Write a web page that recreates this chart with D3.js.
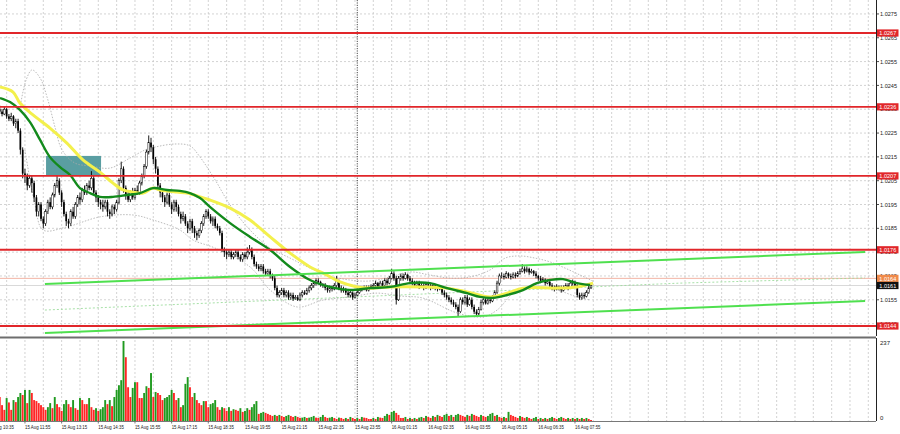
<!DOCTYPE html>
<html><head><meta charset="utf-8">
<script src="https://cdn.jsdelivr.net/npm/d3@7"></script>
<style>html,body{margin:0;padding:0;background:#fff;} svg{display:block;}</style>
</head><body>
<svg id="c" width="900" height="434"></svg>
<script>
// ---- DATA (prices in pips above 1.0000, i.e. 234 = 1.0234) ----
const firstBar = 5;          // index of first bar drawn (bar 0 = 15 Aug 10:35, M5)
const firstOpen = 235;
const closes = [
234,233,235,232,231,232,229,230,226,218,
208,207,203,206,204,198,192,195,189,187,
192,196,194,199,203,205,200,196,191,188,
187,192,190,195,198,197,201,200,203,202,
206,200,198,196,195,194,196,192,191,194,
193,196,205,210,202,199,197,200,198,201,
200,204,207,211,217,221,219,214,210,203,
200,198,196,199,195,193,196,194,191,189,
190,187,185,188,185,183,182,184,187,190,
192,190,188,189,186,185,183,176,175,174,
175,173,174,175,173,172,174,173,175,176,
173,170,169,168,169,167,166,167,165,164,
160,157,158,159,157,158,156,157,155.5,156,
155,157,158,157.5,159,160,161,162,163,162.5,
161.5,161,160,159,160,159.5,161,163,160,159,
159.5,158,157,158,156,157,158,159,159.5,160,
159,160,160.5,161,162,160,162,161,163,162,
164,166,164,155,164,165,164,165.5,164,163,
162,161,162,160.5,161,160,161.5,161,160,161,
160,159.5,160,158,157,156,155,154,153,152,
150,155,154,156,153,155,152,150,149,151,
154,155,153.5,155,154.5,156,158,162,165,165,
164.5,166,165,164.5,165.5,165,166,167,168,167,
168,166.5,167,166,165,164,163,163.5,162,162.5,
161,160,159.5,160.5,160,159,160,161,160,162,
162.5,161,157,156,157,156.5,158,160,161];
const highs = [
236.5,235,236,235.5,233,233.5,232.5,231,231,227,
219,210,208,207,207,205,199,196,196,190,
193,197,198,200,204,207,206,201,197,192,
189,193,194,196,199,200,202,203,204,205,
209,207,201,199,197,197,197,197,193,195,
195,197,206,213,211,203,201,201,202,202,
203,205,208,212,218,224,223,220,215,211,
204,201,199,200,200,196,197,197,195,192,
192,191,188,189,189,186,184,185,188,191,
193,193,191,190,190,187,186,184,177,176,
176,176,175,176,176,174,175,175,177,178,
177,174,171,170,170,170,168,168,168,166,
165,161,159,160,160,159,159,158,158,157,
157,158,159,159,160,161,162,163,164,164,
163,162,162,161,161,161,162,165,163.5,161,
160.5,160,159,159,158.5,158,159,160,160.5,161,
161,161,161.5,162,163,162.5,163,163,164,164,
165,168,167,165,165,166,166,166.5,166,165,
164,163,163,163,162,162,162.5,162.5,162,162,
161.5,161,161,160.5,159,158,157,156,155,154,
153,156,156,157,157,156,156,153,151,152,
155,156,156,156,156,157,159,163,166,166.5,
166,167,166.5,166,166.5,166.5,167,168,170,169,
169,168.5,168,167.5,167,165.5,165,164.5,164,163.5,
163,162,161,161.5,161,161,161,162,162,163,
163.5,163,161.5,158,158,158,159,161,162];
const lows = [
233,232,232.5,231,230,230,228,227,225,216,
206,204,201,202,200,196,190,190,188,185,
186,191,193,193,198,202,199,194,190,186,
185,186,189,189,194,195,196,199,199,201,
201,199,196,194,193,192,193,190,189,190,
191,192,195,204,200,197,196,196,197,197,
199,199,203,206,210,216,217,212,208,201,
198,196,194,195,194,191,192,192,190,187,
188,186,183,184,183,181,180,181,183,186,
189,189,187,186,185,184,182,175,173,172,
173,172,172,173,172,171,171,172,172,174,
172,169,168,167,167,166,165,165,164,163,
159,156,156,157,156,156,155,155,154.5,155,
154.5,154.5,156,157,157,158,159,160,161,161.5,
160.5,160,159,158,158,158.5,159,160,159,158,
158,157,156,156,155,155.5,156.5,157.5,158.5,159,
158.5,158.5,159.5,160,160.5,159.5,159.5,160,160.5,161,
161.5,163.5,163,153,154.5,163,163,163.5,163,162,
161,160,160.5,159.5,160,159,159.5,160,159,159.5,
159,158.5,159,157,156,155,154,153,152,151,
148,149.5,153,153,152,152.5,151,149,148,148.5,
150.5,153,153,153,153.5,154,155.5,157.5,161,164,
163.5,164,164,163.5,164,164,164.5,165.5,166.5,166,
166.5,165.5,166,165,164,163,162,162.5,161,161.5,
160,159,158.5,159,159,158,158.5,159.5,159,159.5,
161,160,156,155,155,155.5,156,157.5,159.5];
const volumes = [
71,47,33,68,55,33,62,56,71,83,
77,92,53,92,83,62,59,53,47,41,
33,41,53,38,71,50,41,30,50,62,
50,41,62,38,33,68,62,50,50,68,
41,33,38,30,35,41,62,50,62,44,
71,92,106,121,237,189,100,71,98,115,
115,68,68,83,103,98,142,71,86,83,
77,62,68,71,77,92,83,62,68,41,
47,110,130,100,71,83,62,53,47,59,
59,41,50,53,62,41,33,41,38,30,
41,30,35,33,30,38,27,30,38,33,
41,50,59,21,24,27,24,21,18,15,
18,15,18,15,12,15,18,15,12,15,
12,9,10,12,9,10,12,15,10,9,
12,18,12,9,10,12,9,6,10,9,
6,9,6,12,9,6,9,6,12,10,
9,6,6,9,6,12,10,9,15,21,
18,27,30,24,18,9,9,12,6,9,
6,9,6,10,12,9,15,12,9,15,
12,18,15,12,18,21,15,18,12,18,
21,18,15,12,18,15,21,18,15,12,
18,15,12,15,21,24,15,18,12,9,
12,9,27,18,15,12,9,15,12,9,
12,9,6,9,12,6,9,6,9,6,
9,12,9,6,9,12,9,6,9,6,
9,6,9,6,9,6,9,6,3];

// moving averages & bands: [bar index, pips]
const maYellow = [[5.1,244.3],[10.8,242.2],[13.8,237.6],[19.5,232.6],[26.9,227.1],[34.3,220.8],[41.3,213.7],[48.7,208.6],[54.4,204.0],[58.8,201.1],[63.1,200.2],[67.5,199.8],[71.9,201.9],[74.9,201.1],[82.3,200.2],[86.7,199.8],[92.4,198.2],[96.7,196.9],[105.5,193.5],[114.2,188.5],[123.0,181.4],[131.7,174.6],[140.4,168.8],[146.1,166.2],[153.5,162.5],[160.9,160.4],[166.6,159.9],[175.3,160.4],[189.7,160.4],[200.2,159.9],[208.9,158.3],[218.9,156.2],[226.4,157.8],[233.3,159.9],[248.2,159.9],[256.9,160.4],[263.9,162.0]];
const maGreen = [[5.1,239.7],[9.5,238.0],[13.8,234.7],[18.2,229.6],[22.6,222.1],[26.9,214.9],[31.3,210.7],[35.7,207.4],[40.0,201.9],[44.4,199.8],[48.7,198.2],[54.4,198.2],[60.5,199.0],[66.2,199.8],[71.9,201.9],[78.0,201.1],[83.6,200.7],[88.0,199.8],[92.4,197.7],[96.7,194.0],[105.5,187.2],[114.2,181.4],[123.0,175.9],[131.7,168.8],[140.4,163.3],[149.1,160.4],[157.8,159.1],[166.6,159.9],[175.3,160.4],[184.0,162.0],[192.7,162.0],[200.2,159.9],[208.9,157.8],[214.6,156.2],[220.2,155.8],[226.4,157.0],[233.3,159.1],[239.4,162.0],[245.1,163.3],[250.8,163.7],[256.9,162.0],[262.6,161.2]];
const bandUpper = [[13.8,235.5],[16.5,247.3],[19.1,251.5],[22.6,248.1],[26.0,238.9],[29.1,227.5],[32.2,217.9],[37.8,212.4],[44.4,211.2],[53.1,210.3],[61.8,214.5],[68.4,217.9],[72.7,219.1],[81.5,220.4],[88.0,219.6],[92.4,214.9],[99.0,205.3],[105.5,194.8],[114.2,184.3],[123.0,176.7],[131.7,172.5],[140.4,168.3],[149.1,165.0],[157.8,163.3],[166.6,162.9],[175.3,164.6],[184.0,166.7],[192.7,165.4],[201.5,164.1],[210.2,164.6],[218.9,167.5],[225.5,172.5],[232.0,173.4],[238.6,172.5],[245.1,170.9],[251.7,168.3],[258.2,165.4],[263.9,162.8]];
const bandLower = [[16.0,217.9],[20.4,194.8],[23.9,184.3],[34.3,185.6],[48.7,189.8],[63.1,190.6],[71.9,188.5],[83.6,184.3],[89.3,180.1],[99.0,176.7],[114.2,168.8],[123.0,159.1],[134.7,152.0],[146.1,154.9],[157.8,156.2],[169.6,157.8],[179.6,156.6],[189.7,155.7],[204.5,149.5],[215.9,147.8],[222.0,150.7],[230.7,159.1],[239.4,160.4],[248.2,159.1],[256.9,156.2],[262.6,154.9]];

// objects
const levels = [1.0267, 1.0236, 1.0207, 1.0176, 1.0144];
const levelLabels = ["1.0267","1.0236","1.0207","1.0176","1.0144"];
const askPrice = 1.0164, askLabel = "1.0164";
const bidPrice = 1.0161, bidLabel = "1.0161";
const trendUpper = [[24.7,161.6],[382.6,175.1]];
const trendLower = [[24.7,141.1],[382.6,154.5]];
const trendFaint = [[24.7,150.7],[301.8,162.0],[382.6,164.2]];
const zone = {i0:25.2, i1:49.2, p0:207.0, p1:215.4};

const priceTicks = [1.0145,1.0155,1.0165,1.0175,1.0185,1.0195,1.0205,1.0215,1.0225,1.0235,1.0245,1.0255,1.0265,1.0275];
const timeTickIdx = [0,16,32,48,64,80,96,112,128,144,160,176,192,208,224,240,256];
const timeTickLabels = ["15 Aug 10:35","15 Aug 11:55","15 Aug 13:15","15 Aug 14:35","15 Aug 15:55","15 Aug 17:15","15 Aug 18:35","15 Aug 19:55","15 Aug 21:15","15 Aug 22:35","15 Aug 23:55","16 Aug 01:15","16 Aug 02:35","16 Aug 03:55","16 Aug 05:15","16 Aug 06:35","16 Aug 07:55"];
const daySeparatorIdx = 161;
const volTicks = [237, 0];

// ---- DRAWING ----
const P = v => 1 + v/10000;
const svg = d3.select("#c");
const axisX = 876;
const x = d3.scaleLinear().domain([0,387]).range([-11.7, 875.2]);
const y = d3.scaleLinear().domain([1.0144,1.0267]).range([326,33]);
const yv = d3.scaleLinear().domain([0,237]).range([421,341]);

const defs = svg.append("defs");
defs.append("clipPath").attr("id","cm").append("rect").attr("x",0).attr("y",0).attr("width",axisX).attr("height",335);
defs.append("clipPath").attr("id","cv").append("rect").attr("x",0).attr("y",339).attr("width",axisX).attr("height",82);

const gm = svg.append("g").attr("clip-path","url(#cm)");
const gv = svg.append("g").attr("clip-path","url(#cv)");

// grid
const gridIdx = d3.range(0, 390, 8);
gm.selectAll(".hg").data(priceTicks).join("line")
  .attr("x1",0).attr("x2",axisX).attr("y1",d=>y(d)).attr("y2",d=>y(d))
  .attr("stroke","#c8c8c8").attr("stroke-width",0.8).attr("stroke-dasharray","2,2");
[gm,gv].forEach(g=>g.selectAll(".vg").data(gridIdx).join("line")
  .attr("x1",d=>x(d)).attr("x2",d=>x(d)).attr("y1",0).attr("y2",421)
  .attr("stroke","#c8c8c8").attr("stroke-width",0.8).attr("stroke-dasharray","2,2"));
[gm,gv].forEach(g=>g.append("line").attr("x1",x(daySeparatorIdx)).attr("x2",x(daySeparatorIdx))
  .attr("y1",0).attr("y2",421).attr("stroke","#333").attr("stroke-width",0.9).attr("stroke-dasharray","1.2,1.2"));

// zone rectangle
gm.append("rect").attr("x",x(zone.i0)).attr("width",x(zone.i1)-x(zone.i0))
  .attr("y",y(P(zone.p1))).attr("height",y(P(zone.p0))-y(P(zone.p1)))
  .attr("fill","#5a9ea2");

// ask/bid lines
gm.append("line").attr("x1",0).attr("x2",axisX).attr("y1",y(askPrice)).attr("y2",y(askPrice)).attr("stroke","#f2b4a4").attr("stroke-width",1);
gm.append("line").attr("x1",0).attr("x2",axisX).attr("y1",y(bidPrice)).attr("y2",y(bidPrice)).attr("stroke","#cfcfcf").attr("stroke-width",0.8);

// bands
const line = d3.line().x(d=>x(d[0])).y(d=>y(P(d[1]))).curve(d3.curveCatmullRom);
[bandUpper, bandLower].forEach(b=>gm.append("path").attr("d",line(b)).attr("fill","none")
  .attr("stroke","#a9a9a9").attr("stroke-width",0.8).attr("stroke-dasharray","1.5,1.5"));

// faint trend
gm.append("path").attr("d",d3.line().x(d=>x(d[0])).y(d=>y(P(d[1])))(trendFaint)).attr("fill","none")
  .attr("stroke","#9ddc9d").attr("stroke-width",0.9).attr("stroke-dasharray","2,2");

// candles
const bars = closes.map((c,k)=>({i:firstBar+k, o: k===0?firstOpen:closes[k-1], c, h:highs[k], l:lows[k], v:volumes[k]}));
const cg = gm.append("g");
cg.selectAll(".w").data(bars).join("line")
  .attr("x1",d=>x(d.i)).attr("x2",d=>x(d.i))
  .attr("y1",d=>y(P(d.h))).attr("y2",d=>y(P(d.l)))
  .attr("stroke","#000").attr("stroke-width",0.9);
cg.selectAll(".b").data(bars).join("rect")
  .attr("x",d=>x(d.i)-0.85).attr("width",1.7)
  .attr("y",d=>y(P(Math.max(d.o,d.c))))
  .attr("height",d=>Math.max(0.6, Math.abs(y(P(d.o))-y(P(d.c)))))
  .attr("fill",d=>d.c>=d.o?"#fff":"#000")
  .attr("stroke","#000").attr("stroke-width",d=>d.c>=d.o?0.5:0);

// MAs
gm.append("path").attr("d",line(maYellow)).attr("fill","none").attr("stroke","#f3f04c").attr("stroke-width",3);
gm.append("path").attr("d",line(maGreen)).attr("fill","none").attr("stroke","#138a1c").attr("stroke-width",2.4);

// trend lines
[trendUpper, trendLower].forEach(t=>gm.append("path").attr("d",d3.line().x(d=>x(d[0])).y(d=>y(P(d[1])))(t))
  .attr("fill","none").attr("stroke","#4fe04f").attr("stroke-width",2));

// levels
gm.selectAll(".lv").data(levels).join("line")
  .attr("x1",0).attr("x2",axisX).attr("y1",d=>y(d)).attr("y2",d=>y(d))
  .attr("stroke","#e1262a").attr("stroke-width",1.8);

// volumes
gv.selectAll(".vb").data(bars).join("rect")
  .attr("x",d=>x(d.i)-0.95).attr("width",1.9)
  .attr("y",d=>yv(d.v)).attr("height",d=>yv(0)-yv(d.v))
  .attr("fill",(d,k)=> (k>0 && d.v>bars[k-1].v) ? "#1f9a1f" : "#ff2626");

// separators & axes
svg.append("rect").attr("x",0).attr("y",336.5).attr("width",axisX).attr("height",2).attr("fill","#6e6e6e");
svg.append("line").attr("x1",axisX+0.5).attr("x2",axisX+0.5).attr("y1",0).attr("y2",336).attr("stroke","#222").attr("stroke-width",1);
svg.append("line").attr("x1",axisX+0.5).attr("x2",axisX+0.5).attr("y1",338).attr("y2",421).attr("stroke","#222").attr("stroke-width",1);
svg.append("line").attr("x1",0).attr("x2",axisX).attr("y1",421.5).attr("y2",421.5).attr("stroke","#555").attr("stroke-width",0.8);

const font = "Liberation Sans, Arial, sans-serif";
// price axis
svg.selectAll(".pt").data(priceTicks).join("line")
  .attr("x1",axisX).attr("x2",axisX+3).attr("y1",d=>y(d)).attr("y2",d=>y(d)).attr("stroke","#222").attr("stroke-width",0.8);
svg.selectAll(".pl").data(priceTicks).join("text")
  .attr("x",880).attr("y",d=>y(d)).attr("dy","0.36em")
  .attr("font-family",font).attr("font-size",6).attr("fill","#222")
  .attr("textLength",17).attr("lengthAdjust","spacingAndGlyphs")
  .text(d=>d3.format(".4f")(d));
// volume axis
svg.selectAll(".vl").data(volTicks).join("text")
  .attr("x",880).attr("y",d=>d===0?418:343).attr("dy","0.36em")
  .attr("font-family",font).attr("font-size",6).attr("fill","#222").text(d=>d);
// time axis
svg.selectAll(".tt").data(timeTickIdx).join("line")
  .attr("x1",d=>x(d)).attr("x2",d=>x(d)).attr("y1",421.5).attr("y2",423.5).attr("stroke","#555").attr("stroke-width",0.8);
svg.selectAll(".tl").data(timeTickIdx).join("text")
  .attr("x",d=>x(d)).attr("y",428.6)
  .attr("font-family",font).attr("font-size",6.2).attr("fill","#222")
  .attr("textLength",25.5).attr("lengthAdjust","spacingAndGlyphs")
  .text((d,k)=>timeTickLabels[k]);

// price label boxes
function box(p, label, fill){
  const yy = y(p);
  svg.append("rect").attr("x",877).attr("y",yy-3.6).attr("width",21.5).attr("height",7.2).attr("fill",fill);
  svg.append("text").attr("x",879.3).attr("y",yy).attr("dy","0.36em")
    .attr("font-family",font).attr("font-size",6).attr("fill","#fff")
    .attr("textLength",17).attr("lengthAdjust","spacingAndGlyphs").text(label);
}
levels.forEach((p,k)=>box(p, levelLabels[k], "#e1262a"));
box(askPrice, askLabel, "#f08a4a");
box(bidPrice, bidLabel, "#111");
</script>
</body></html>
